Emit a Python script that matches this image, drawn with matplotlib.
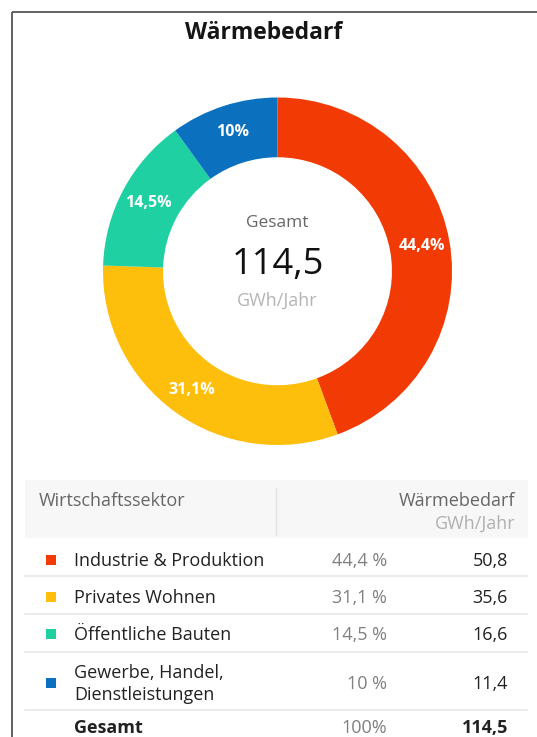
import matplotlib.pyplot as plt
from matplotlib.patches import Rectangle

# heat demand by economic sector (GWh per year)
sectors = ["Industrie & Produktion", "Privates Wohnen", "Öffentliche Bauten",
           "Gewerbe, Handel,\nDienstleistungen"]
demand = [50.8, 35.6, 16.6, 11.4]
shares = [44.4, 31.1, 14.5, 10.0]
total = 114.5
colors = ["#F23A05", "#FDBE0C", "#1FD0A2", "#0B70BE"]


def de(x, sep=""):
    s = f"{x:.1f}".replace(".", ",")
    if s.endswith(",0"):
        s = s[:-2]
    return s + sep + "%"


plt.rcParams["font.family"] = ["Open Sans", "DejaVu Sans"]

W, H = 537, 737
fig = plt.figure(figsize=(W / 100, H / 100), dpi=100)

# pixel-space canvas for frame, title and table
bg = fig.add_axes([0, 0, 1, 1])
bg.set_xlim(0, W)
bg.set_ylim(H, 0)
bg.axis("off")

bg.plot([12, 12], [12, H], color="#555555", lw=1.3, solid_capstyle="butt")
bg.plot([12, W], [12, 12], color="#555555", lw=1.3, solid_capstyle="butt")

bg.text(264, 33, "Wärmebedarf", ha="center", va="center", fontsize=16.5,
        fontweight="bold", color="#151515")

# donut
ax = fig.add_axes([103 / W, 1 - 445 / H, 349 / W, 347.5 / H])
wedges, _, autotexts = ax.pie(
    demand, colors=colors, startangle=90, counterclock=False,
    wedgeprops=dict(width=0.344, linewidth=0),
    autopct=lambda p: "", pctdistance=0.84)
for t, s in zip(autotexts, shares):
    t.set_text(de(s))
    t.set_color("white")
    t.set_fontweight("bold")
    t.set_fontsize(11.5)
ax.set_aspect("auto")
ax.set_xlim(-1, 1)
ax.set_ylim(-1, 1)

bg.text(277.5, 223, "Gesamt", ha="center", va="center", fontsize=12.5, color="#666666")
bg.text(277.5, 265, de(total, "").rstrip("%"), ha="center", va="center",
        fontsize=26, color="#111111")
bg.text(277.5, 301, "GWh/Jahr", ha="center", va="center", fontsize=13, color="#b5b5b5")

# table
fs = 13
bg.add_patch(Rectangle((25, 480), 503, 58, facecolor="#F7F7F7", edgecolor="none"))
bg.plot([276, 276], [488, 535], color="#E2E2E2", lw=1)
bg.text(39, 501, "Wirtschaftssektor", ha="left", va="center", fontsize=fs, color="#666666")
bg.text(515, 501, "Wärmebedarf", ha="right", va="center", fontsize=fs, color="#666666")
bg.text(515, 524, "GWh/Jahr", ha="right", va="center", fontsize=fs, color="#b0b0b0")

row_y = [561, 598, 635, 684]
line_y = [576, 614, 652, 710]
for y, ly, name, share, val, c in zip(row_y, line_y, sectors, shares, demand, colors):
    bg.add_patch(Rectangle((45.5, y - 6), 10, 10, facecolor=c, edgecolor="none"))
    bg.text(74, y, name, ha="left", va="center", fontsize=fs, color="#222222",
            linespacing=1.3)
    bg.text(387, y, de(share, " "), ha="right", va="center", fontsize=fs, color="#808080")
    bg.text(508, y, f"{val:.1f}".replace(".", ","), ha="right", va="center",
            fontsize=fs, color="#222222")
    bg.plot([25, 527], [ly, ly], color="#E8E8E8", lw=1.2)

bg.text(74, 728, "Gesamt", ha="left", va="center", fontsize=fs, fontweight="bold",
        color="#222222")
bg.text(387, 728, "100%", ha="right", va="center", fontsize=fs, color="#808080")
bg.text(508, 728, f"{total:.1f}".replace(".", ","), ha="right", va="center",
        fontsize=fs, fontweight="bold", color="#222222")

fig.savefig("out.png", dpi=100, facecolor="white")
